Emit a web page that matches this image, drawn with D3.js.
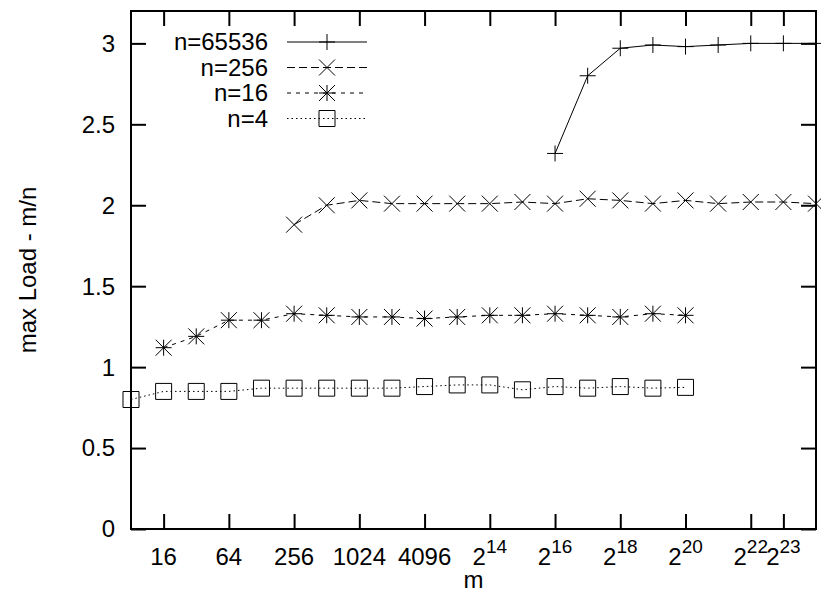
<!DOCTYPE html>
<html>
<head>
<meta charset="utf-8">
<script src="https://cdn.jsdelivr.net/npm/d3@7/dist/d3.min.js"></script>
<style>
	body { margin: 0; background: #fff; }
	#chart text { font-family: 'Liberation Sans', Arial, sans-serif; font-size: 24px; fill: #000; }
</style>
</head>
<body>
<div id="chart"><svg width="821" height="590"></svg></div>
<script>
// tick positions and labels ('b^e' is drawn as a superscript)
var mTicks = [16, 64, 256, 1024, 4096, 16384, 65536, 262144, 1048576, 4194304, 8388608];
var mTickLabels = ['16', '64', '256', '1024', '4096', '2^14', '2^16', '2^18', '2^20', '2^22', '2^23'];
var loadTicks = [0, 0.5, 1, 1.5, 2, 2.5, 3];
var loadTickLabels = ['0', '0.5', '1', '1.5', '2', '2.5', '3'];

// n = 65536
var m65536 = [65536, 131072, 262144, 524288, 1048576, 2097152, 4194304, 8388608, 16777216];
var load65536 = [2.32, 2.80, 2.97, 2.99, 2.98, 2.99, 3.00, 3.00, 3.00];

// n = 256
var m256 = [256, 512, 1024, 2048, 4096, 8192, 16384, 32768, 65536, 131072, 262144, 524288,
	1048576, 2097152, 4194304, 8388608, 16777216];
var load256 = [1.88, 2.00, 2.03, 2.01, 2.01, 2.01, 2.01, 2.02, 2.01, 2.04, 2.03, 2.01,
	2.03, 2.01, 2.02, 2.02, 2.01];

// n = 16
var m16 = [16, 32, 64, 128, 256, 512, 1024, 2048, 4096, 8192, 16384, 32768, 65536, 131072,
	262144, 524288, 1048576];
var load16 = [1.12, 1.19, 1.29, 1.29, 1.33, 1.32, 1.31, 1.31, 1.30, 1.31, 1.32, 1.32, 1.33, 1.32,
	1.31, 1.33, 1.32];

// n = 4
var m4 = [8, 16, 32, 64, 128, 256, 512, 1024, 2048, 4096, 8192, 16384, 32768, 65536, 131072,
	262144, 524288, 1048576];
var load4 = [0.80, 0.85, 0.85, 0.85, 0.87, 0.87, 0.87, 0.87, 0.87, 0.88, 0.89, 0.89, 0.86, 0.88,
	0.87, 0.88, 0.87, 0.875];

const Chart = {
	margin: { top: 11, left: 131, bottom: 61, right: 5 },
	series: [
		{ name: 'n=65536', m: m65536, load: load65536, dash: null, marker: 'plus' },
		{ name: 'n=256', m: m256, load: load256, dash: '8,4', marker: 'cross' },
		{ name: 'n=16', m: m16, load: load16, dash: '4,5', marker: 'star' },
		{ name: 'n=4', m: m4, load: load4, dash: '1.5,3', marker: 'square' }
	],

	markerPath: function(type) {
		var s = 8;
		var plus = 'M' + (-s) + ',0H' + s + 'M0,' + (-s) + 'V' + s;
		var cross = 'M' + (-s) + ',' + (-s) + 'L' + s + ',' + s + 'M' + (-s) + ',' + s + 'L' + s + ',' + (-s);
		if (type == 'plus') return plus;
		if (type == 'cross') return cross;
		if (type == 'star') return plus + cross;
		return 'M' + (-s) + ',' + (-s) + 'H' + s + 'V' + s + 'H' + (-s) + 'Z';
	},

	draw: function() {
		const self = this;
		var margin = self.margin;
		var svg = d3.select('#chart > svg');
		var width = +svg.attr('width') - margin.left - margin.right;
		var height = +svg.attr('height') - margin.top - margin.bottom;

		var xScale = d3.scaleLog().base(2)
			.domain([8, 16777216])
			.range([0, width]);
		var yScale = d3.scaleLinear()
			.domain([0, 3.2])
			.range([height, 0]);

		var group = svg.append('g')
			.attr('transform', 'translate(' + [margin.left, margin.top] + ')');

		// ticks on all four sides, pointing inward
		var axes = [
			{ axis: d3.axisBottom(xScale).tickValues(mTicks), t: [0, height] },
			{ axis: d3.axisTop(xScale).tickValues(mTicks), t: [0, 0] },
			{ axis: d3.axisLeft(yScale).tickValues(loadTicks), t: [0, 0] },
			{ axis: d3.axisRight(yScale).tickValues(loadTicks), t: [width, 0] }
		];
		axes.forEach(function(a) {
			var g = group.append('g')
				.attr('transform', 'translate(' + a.t + ')')
				.call(a.axis.tickSizeInner(-15).tickSizeOuter(0).tickFormat(''));
			g.select('.domain').remove();
			g.selectAll('line').attr('stroke', '#000').attr('stroke-width', 2);
			g.selectAll('text').remove();
		});

		group.append('rect')
			.attr('width', width)
			.attr('height', height)
			.attr('fill', 'none')
			.attr('stroke', '#000')
			.attr('stroke-width', 2);

		// x tick labels
		var xLabels = group.append('g').selectAll('text')
			.data(mTicks)
			.enter()
			.append('text')
			.attr('x', function(d) { return xScale(d) })
			.attr('y', height + 36)
			.attr('text-anchor', 'middle');
		xLabels.each(function(d, i) {
			var parts = mTickLabels[i].split('^');
			var t = d3.select(this);
			t.append('tspan').text(parts[0]);
			if (parts.length > 1) {
				t.append('tspan')
					.attr('dy', -12)
					.style('font-size', '19px')
					.text(parts[1]);
			}
		});

		// y tick labels
		group.append('g').selectAll('text')
			.data(loadTicks)
			.enter()
			.append('text')
			.attr('x', -16)
			.attr('y', function(d) { return yScale(d) })
			.attr('dy', '0.35em')
			.attr('text-anchor', 'end')
			.text(function(d, i) { return loadTickLabels[i] });

		// axis titles
		group.append('text')
			.attr('x', width / 2)
			.attr('y', height + 59)
			.attr('text-anchor', 'middle')
			.text('m');
		group.append('text')
			.attr('transform', 'translate(' + (36 - margin.left) + ',' + (height / 2) + ') rotate(-90)')
			.attr('text-anchor', 'middle')
			.text('max Load - m/n');

		// series
		var line = d3.line()
			.x(function(d) { return xScale(d[0]) })
			.y(function(d) { return yScale(d[1]) });

		self.series.forEach(function(s) {
			var pts = s.m.map(function(m, i) { return [m, s.load[i]] });
			group.append('path')
				.datum(pts)
				.attr('d', line)
				.attr('fill', 'none')
				.attr('stroke', '#000')
				.attr('stroke-width', 1)
				.attr('stroke-dasharray', s.dash);
			group.append('g').selectAll('path')
				.data(pts)
				.enter()
				.append('path')
				.attr('transform', function(d) { return 'translate(' + [xScale(d[0]), yScale(d[1])] + ')' })
				.attr('d', self.markerPath(s.marker))
				.attr('fill', 'none')
				.attr('stroke', '#000')
				.attr('stroke-width', 1);
		});

		// legend
		var legend = group.append('g')
			.attr('transform', 'translate(' + (-margin.left) + ',' + (-margin.top) + ')');
		self.series.forEach(function(s, i) {
			var y = 42 + i * 25.5;
			legend.append('text')
				.attr('x', 268)
				.attr('y', y)
				.attr('dy', '0.35em')
				.attr('text-anchor', 'end')
				.text(s.name);
			legend.append('line')
				.attr('x1', 287)
				.attr('x2', 367)
				.attr('y1', y)
				.attr('y2', y)
				.attr('stroke', '#000')
				.attr('stroke-width', 1)
				.attr('stroke-dasharray', s.dash);
			legend.append('path')
				.attr('transform', 'translate(' + [327, y] + ')')
				.attr('d', self.markerPath(s.marker))
				.attr('fill', 'none')
				.attr('stroke', '#000')
				.attr('stroke-width', 1);
		});
	}
};

Chart.draw();
</script>
</body>
</html>
